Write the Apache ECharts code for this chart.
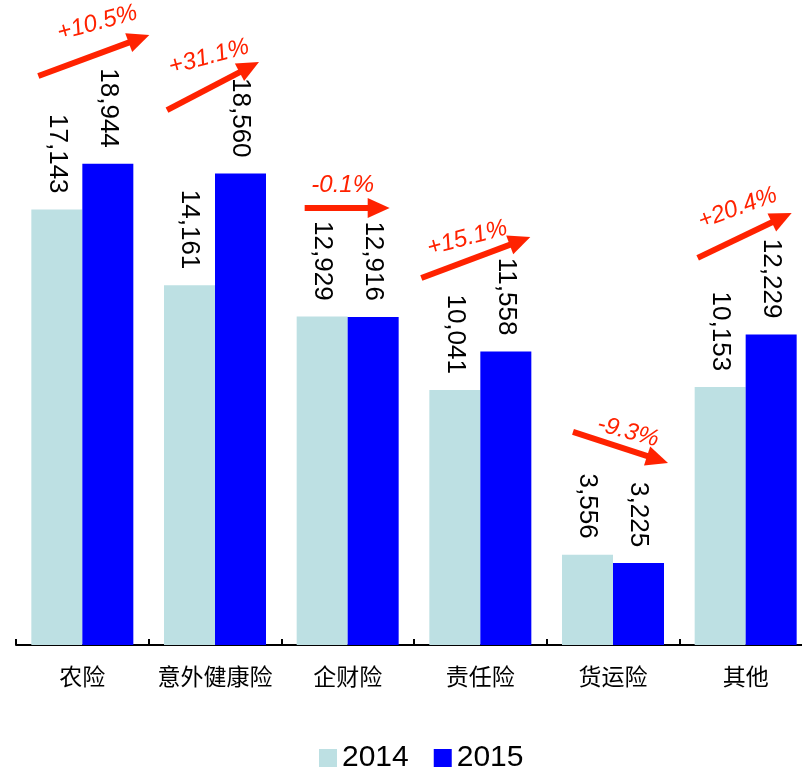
<!DOCTYPE html>
<html>
<head>
<meta charset="utf-8">
<script src="https://cdn.jsdelivr.net/npm/echarts@6/dist/echarts.min.js"></script>
<style>
  html, body { margin: 0; padding: 0; background: #fff; }
  #chart { width: 802px; height: 768px; }
</style>
</head>
<body>
<div id="chart"></div>
<script>
const categories = ['农险', '意外健康险', '企财险', '责任险', '货运险', '其他']
const values2014 = [17143, 14161, 12929, 10041, 3556, 10153]
const values2015 = [18944, 18560, 12916, 11558, 3225, 12229]

// growth arrows: start / end heights in axis units
const arrowFrom = [22400, 21060, 17200, 14450, 8390, 15240]
const arrowTo = [24020, 22950, 17200, 16060, 7170, 17010]
const pctAt = [24490, 23150, 18110, 16020, 8390, 17200]

// horizontal offsets (px) from category centre, and text tilt (deg)
const arrowDx0 = [-44, -48, -43, -59, -40, -48]
const arrowDx1 = [67, 44, 42, 50, 55, 46]
const pctDx = [15, -6, -5, -13, 15, -8]
const pctTilt = [15, 15, 0, 15, -15, 20]

const RED = '#ff2200'
const fmt = v => v.toLocaleString('en-US')

const chart = echarts.init(document.getElementById('chart'))

const valueLabel = {
  show: true,
  position: 'top',
  distance: 16,
  rotate: -90,
  align: 'right',
  verticalAlign: 'middle',
  color: '#000',
  fontSize: 26,
  fontFamily: 'Liberation Sans, Arial, sans-serif',
  formatter: p => fmt(p.value)
}

chart.setOption({
  animation: false,
  grid: { left: 16, top: 10, width: 796, height: 635, outerBoundsMode: 'none', containLabel: false },
  legend: {
    left: 314,
    top: 738,
    icon: 'rect',
    itemWidth: 18,
    itemHeight: 18,
    itemGap: 25,
    textStyle: { fontSize: 30, color: '#000', fontFamily: 'Liberation Sans, Arial, sans-serif' },
    data: ['2014', '2015']
  },
  xAxis: {
    type: 'category',
    data: categories,
    axisLine: { lineStyle: { color: '#000', width: 2 } },
    axisTick: { show: true, inside: true, length: 6, lineStyle: { color: '#000', width: 2 } },
    axisLabel: {
      interval: 0,
      color: '#000',
      fontSize: 23,
      margin: 20,
      fontFamily: 'Noto Sans CJK SC, sans-serif'
    }
  },
  yAxis: {
    type: 'value',
    min: 0,
    max: 25000,
    show: false,
    splitLine: { show: false }
  },
  series: [
    {
      name: '2014',
      type: 'bar',
      data: values2014,
      barWidth: 51,
      barGap: '0%',
      itemStyle: { color: '#bde0e3' },
      label: valueLabel
    },
    {
      name: '2015',
      type: 'bar',
      data: values2015,
      barWidth: 51,
      itemStyle: { color: '#0000ff' },
      label: valueLabel
    }
  ]
})

// growth arrows + percentage labels
const graphics = []
categories.forEach((c, i) => {
  const [cx, y0] = chart.convertToPixel({ xAxisIndex: 0, yAxisIndex: 0 }, [i, arrowFrom[i]])
  const y1 = chart.convertToPixel({ yAxisIndex: 0 }, arrowTo[i])
  const ty = chart.convertToPixel({ yAxisIndex: 0 }, pctAt[i])
  const x0 = cx + arrowDx0[i]
  const x1 = cx + arrowDx1[i]

  const ang = Math.atan2(y1 - y0, x1 - x0)
  const L = 22
  const W = 10
  const bx = x1 - L * Math.cos(ang)
  const by = y1 - L * Math.sin(ang)
  const px = -Math.sin(ang)
  const py = Math.cos(ang)

  graphics.push({
    type: 'line',
    shape: { x1: x0, y1: y0, x2: bx + 2 * Math.cos(ang), y2: by + 2 * Math.sin(ang) },
    style: { stroke: RED, lineWidth: 6 },
    z: 100
  })
  graphics.push({
    type: 'polygon',
    shape: { points: [[x1, y1], [bx + W * px, by + W * py], [bx - W * px, by - W * py]] },
    style: { fill: RED },
    z: 100
  })

  const pct = (values2015[i] - values2014[i]) / values2014[i] * 100
  graphics.push({
    type: 'text',
    x: cx + pctDx[i],
    y: ty,
    rotation: pctTilt[i] * Math.PI / 180,
    style: {
      text: (pct > 0 ? '+' : '') + pct.toFixed(1) + '%',
      fill: RED,
      fontSize: 24,
      fontStyle: 'italic',
      fontFamily: 'Liberation Sans, Arial, sans-serif',
      align: 'center',
      verticalAlign: 'middle'
    },
    z: 100
  })
})

chart.setOption({ graphic: graphics })
</script>
</body>
</html>
